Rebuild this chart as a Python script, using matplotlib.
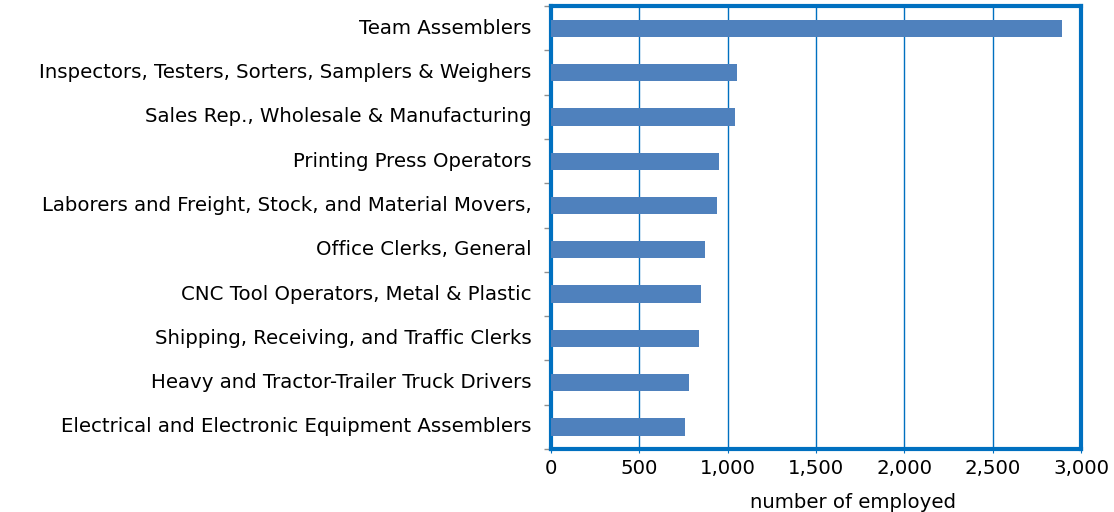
import matplotlib.pyplot as plt
import matplotlib.transforms as mtransforms
import numpy as np

plt.rcParams['font.family'] = ['DejaVu Sans']

occupations = [
    "Team Assemblers",
    "Inspectors, Testers, Sorters, Samplers & Weighers",
    "Sales Rep., Wholesale & Manufacturing",
    "Printing Press Operators",
    "Laborers and Freight, Stock, and Material Movers,",
    "Office Clerks, General",
    "CNC Tool Operators, Metal & Plastic",
    "Shipping, Receiving, and Traffic Clerks",
    "Heavy and Tractor-Trailer Truck Drivers",
    "Electrical and Electronic Equipment Assemblers",
]
employed = [2890, 1052, 1041, 951, 939, 871, 849, 838, 781, 760]
x_ticks = [0, 500, 1000, 1500, 2000, 2500, 3000]

border = '#0070C0'
bar_color = '#4F81BD'
fs = 14.2

fig = plt.figure(figsize=(11.14, 5.12), dpi=100)
ax = fig.add_axes([0.4946, 0.123, 0.4758, 0.865])

y = np.arange(len(occupations))
ax.barh(y, employed, height=0.39, color=bar_color, zorder=3)
ax.set_ylim(len(occupations) - 0.5, -0.5)
ax.set_xlim(0, 3000)

ax.set_yticks(y)
ax.set_yticklabels(occupations, fontsize=fs)
ax.tick_params(axis='y', length=0, pad=14)
# nudge labels up a little to sit level with the bars
shift = mtransforms.ScaledTranslation(0, 2 / 100, fig.dpi_scale_trans)
for lbl in ax.get_yticklabels():
    lbl.set_transform(lbl.get_transform() + shift)
ax.set_yticks(np.arange(-0.5, len(occupations), 1), minor=True)
ax.tick_params(axis='y', which='minor', length=5, color='#909090', width=1)

ax.set_xticks(x_ticks)
ax.set_xticklabels([f"{v:,}" for v in x_ticks], fontsize=fs)
ax.tick_params(axis='x', length=3, color=border, pad=4)

ax.grid(axis='x', color=border, linewidth=1, zorder=0)
for s in ax.spines.values():
    s.set_color(border)
    s.set_linewidth(3)

ax.set_xlabel("number of employed", fontsize=fs)
ax.xaxis.set_label_coords(0.57, -0.1)

fig.savefig('out.png', dpi=100)
